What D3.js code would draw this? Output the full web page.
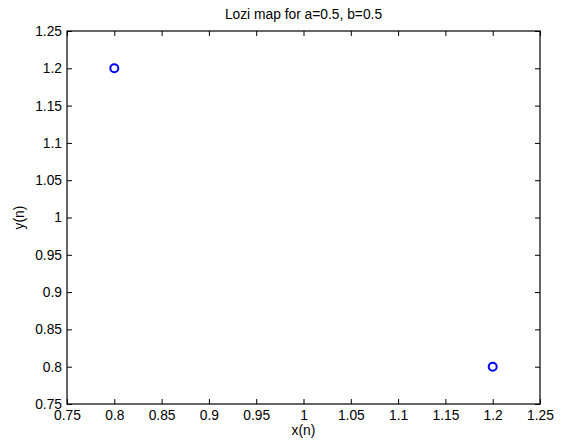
<!DOCTYPE html>
<html>
<head>
<meta charset="utf-8">
<script src="https://cdn.jsdelivr.net/npm/d3@7"></script>
<style>
  body { margin: 0; background: #fff; }
  text { font-family: "Liberation Sans", Arial, sans-serif; }
</style>
</head>
<body>
<svg id="chart"></svg>
<script>
// data
const xValues = [0.8, 1.2];
const yValues = [1.2, 0.8];
const xTicks = [0.75, 0.8, 0.85, 0.9, 0.95, 1, 1.05, 1.1, 1.15, 1.2, 1.25];
const yTicks = [0.75, 0.8, 0.85, 0.9, 0.95, 1, 1.05, 1.1, 1.15, 1.2, 1.25];

const width = 564, height = 446;
const margin = { top: 31, right: 24, bottom: 42, left: 67 };
const w = width - margin.left - margin.right;
const h = height - margin.top - margin.bottom;
const fs = 13.8;

const svg = d3.select("#chart").attr("width", width).attr("height", height);
const g = svg.append("g").attr("transform", `translate(${margin.left},${margin.top})`);

const x = d3.scaleLinear().domain([0.75, 1.25]).range([0, w]);
const y = d3.scaleLinear().domain([0.75, 1.25]).range([h, 0]);

const fmt = d => String(+d.toFixed(2));

// ticks point inward on all four sides
g.append("g").attr("transform", `translate(0,${h})`)
  .call(d3.axisBottom(x).tickValues(xTicks).tickFormat(fmt).tickSizeInner(-5).tickSizeOuter(0).tickPadding(6))
  .call(a => a.select(".domain").remove());
g.append("g")
  .call(d3.axisTop(x).tickValues(xTicks).tickFormat("").tickSizeInner(-5).tickSizeOuter(0))
  .call(a => a.select(".domain").remove());
g.append("g")
  .call(d3.axisLeft(y).tickValues(yTicks).tickFormat(fmt).tickSizeInner(-5).tickSizeOuter(0).tickPadding(5))
  .call(a => a.select(".domain").remove());
g.append("g").attr("transform", `translate(${w},0)`)
  .call(d3.axisRight(y).tickValues(yTicks).tickFormat("").tickSizeInner(-5).tickSizeOuter(0))
  .call(a => a.select(".domain").remove());

g.selectAll(".tick text").attr("font-size", fs).attr("font-family", "Liberation Sans, Arial, sans-serif").attr("fill", "#000");
g.selectAll(".tick line").attr("stroke", "#000");

g.append("rect").attr("width", w).attr("height", h)
  .attr("fill", "none").attr("stroke", "#000").attr("stroke-width", 1.2);

// points
g.selectAll("circle.pt")
  .data(xValues.map((v, i) => [v, yValues[i]]))
  .join("circle")
  .attr("class", "pt")
  .attr("cx", d => x(d[0]))
  .attr("cy", d => y(d[1]))
  .attr("r", 4)
  .attr("fill", "none")
  .attr("stroke", "#0000ff")
  .attr("stroke-width", 2);

// labels
svg.append("text").attr("x", margin.left + w / 2).attr("y", 19)
  .attr("text-anchor", "middle").attr("font-size", fs).text("Lozi map for a=0.5, b=0.5");
svg.append("text").attr("x", margin.left + w / 2).attr("y", 435)
  .attr("text-anchor", "middle").attr("font-size", fs).text("x(n)");
svg.append("text").attr("transform", `translate(24,${margin.top + h / 2}) rotate(-90)`)
  .attr("text-anchor", "middle").attr("font-size", fs).text("y(n)");
</script>
</body>
</html>
